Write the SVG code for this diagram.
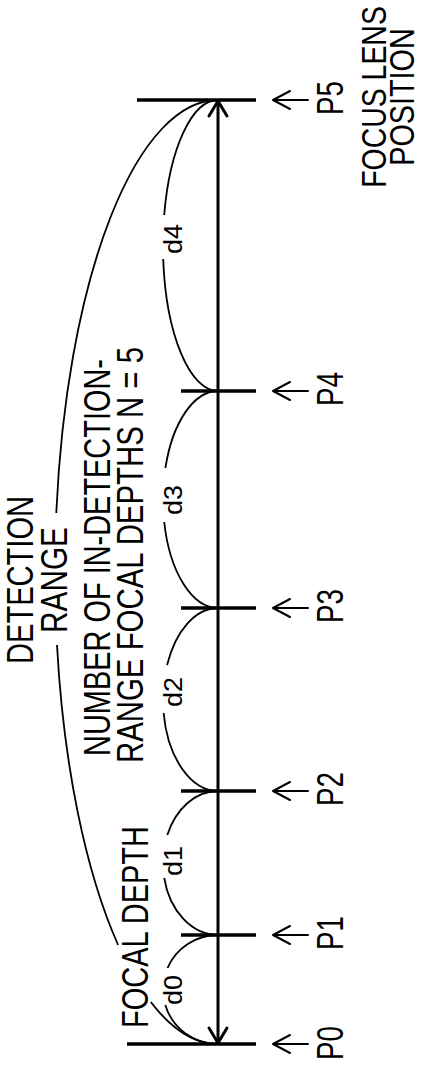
<svg xmlns="http://www.w3.org/2000/svg" width="421" height="1065" viewBox="0 0 421 1065">
<style>
  .bg{fill:#fff}
  .tick{stroke:#000;stroke-width:3.5;fill:none}
  .axis{stroke:#000;stroke-width:3;fill:none}
  .head{stroke:#000;stroke-width:3;fill:none;stroke-linecap:round;stroke-linejoin:round}
  .arc{stroke:#000;stroke-width:1.8;fill:none}
  .ptr{stroke:#000;stroke-width:2;fill:none;stroke-linecap:round;stroke-linejoin:round}
  .lbl{font-family:"Liberation Sans",Arial,sans-serif;font-size:36px;fill:#000;text-anchor:middle}
  .dl{font-family:"Liberation Sans",Arial,sans-serif;font-size:26px;fill:#000;text-anchor:middle}
</style>
<defs>
  <path id="ptrShape" d="M308,0 H274 M290,-9 L273,0 L290,9"/>
</defs>
<rect class="bg" x="0" y="0" width="421" height="1065"/>

<g id="connectors">
  <!-- main double-headed arrow -->
  <line class="axis" x1="218" y1="101" x2="218" y2="1043"/>
  <path class="head" d="M209,116 L218,101 L227,116"/>
  <path class="head" d="M209,1028 L218,1043 L227,1028"/>
  <!-- detection range arc -->
  <path class="arc" d="M218,100 A163,472 0 0 0 56.3,513"/>
  <path class="arc" d="M57,645 A163,472 0 0 0 118.1,945"/>
  <path class="arc" d="M150.8,1002 A163,472 0 0 0 218,1044"/>
  <!-- d4 -->
  <path class="arc" d="M218,100 A55,145.5 0 0 0 164.2,215"/>
  <path class="arc" d="M163.2,259 A55,145.5 0 0 0 218,391"/>
  <!-- d3 -->
  <path class="arc" d="M218,391 A55,108.5 0 0 0 165.4,468"/>
  <path class="arc" d="M164.2,522 A55,108.5 0 0 0 218,608"/>
  <!-- d2 -->
  <path class="arc" d="M218,608 A55,91.5 0 0 0 167.1,665"/>
  <path class="arc" d="M163.6,713 A55,91.5 0 0 0 218,791"/>
  <!-- d1 -->
  <path class="arc" d="M218,791 A55,72 0 0 0 167.3,835"/>
  <path class="arc" d="M164.2,878 A55,72 0 0 0 218,935"/>
  <!-- d0 -->
  <path class="arc" d="M218,935 A55,54.5 0 0 0 167.5,968"/>
  <path class="arc" d="M165.3,1005 A55,54.5 0 0 0 218,1044"/>
</g>

<g id="P5">
  <line class="tick" x1="137" y1="100" x2="256" y2="100"/>
  <use href="#ptrShape" class="ptr" transform="translate(0,100)"/>
  <text class="lbl" transform="translate(343,98) rotate(-90)" textLength="34" lengthAdjust="spacingAndGlyphs">P5</text>
</g>
<g id="P4">
  <line class="tick" x1="181" y1="391" x2="256" y2="391"/>
  <use href="#ptrShape" class="ptr" transform="translate(0,391)"/>
  <text class="lbl" transform="translate(343,389) rotate(-90)" textLength="34" lengthAdjust="spacingAndGlyphs">P4</text>
</g>
<g id="P3">
  <line class="tick" x1="181" y1="608" x2="256" y2="608"/>
  <use href="#ptrShape" class="ptr" transform="translate(0,608)"/>
  <text class="lbl" transform="translate(343,606) rotate(-90)" textLength="34" lengthAdjust="spacingAndGlyphs">P3</text>
</g>
<g id="P2">
  <line class="tick" x1="181" y1="791" x2="256" y2="791"/>
  <use href="#ptrShape" class="ptr" transform="translate(0,791)"/>
  <text class="lbl" transform="translate(343,789) rotate(-90)" textLength="34" lengthAdjust="spacingAndGlyphs">P2</text>
</g>
<g id="P1">
  <line class="tick" x1="181" y1="935" x2="256" y2="935"/>
  <use href="#ptrShape" class="ptr" transform="translate(0,935)"/>
  <text class="lbl" transform="translate(343,933) rotate(-90)" textLength="34" lengthAdjust="spacingAndGlyphs">P1</text>
</g>
<g id="P0">
  <line class="tick" x1="127" y1="1044" x2="256" y2="1044"/>
  <use href="#ptrShape" class="ptr" transform="translate(0,1044)"/>
  <text class="lbl" transform="translate(343,1043) rotate(-90)" textLength="34" lengthAdjust="spacingAndGlyphs">P0</text>
</g>

<g id="focus-lens-position">
  <text class="lbl" transform="translate(386,97) rotate(-90) scale(0.79,1)">FOCUS LENS</text>
  <text class="lbl" transform="translate(413.5,97) rotate(-90) scale(0.8,0.97)">POSITION</text>
</g>
<g id="detection-range">
  <text class="lbl" transform="translate(33,580) rotate(-90)" textLength="168" lengthAdjust="spacingAndGlyphs">DETECTION</text>
  <text class="lbl" transform="translate(67,580) rotate(-90)" textLength="106" lengthAdjust="spacingAndGlyphs">RANGE</text>
</g>
<g id="number-of-depths">
  <text class="lbl" transform="translate(110,557.5) rotate(-90)" textLength="397" lengthAdjust="spacingAndGlyphs">NUMBER OF IN-DETECTION-</text>
  <text class="lbl" transform="translate(143,555) rotate(-90)" textLength="416" lengthAdjust="spacingAndGlyphs">RANGE FOCAL DEPTHS N = 5</text>
</g>
<g id="focal-depth">
  <text class="lbl" transform="translate(148,927) rotate(-90)" textLength="202" lengthAdjust="spacingAndGlyphs">FOCAL DEPTH</text>
</g>
<g id="d-labels">
  <text class="dl" transform="translate(182,239) rotate(-90)" textLength="30" lengthAdjust="spacingAndGlyphs">d4</text>
  <text class="dl" transform="translate(182,500) rotate(-90)" textLength="30" lengthAdjust="spacingAndGlyphs">d3</text>
  <text class="dl" transform="translate(182,692) rotate(-90)" textLength="30" lengthAdjust="spacingAndGlyphs">d2</text>
  <text class="dl" transform="translate(182,861) rotate(-90)" textLength="30" lengthAdjust="spacingAndGlyphs">d1</text>
  <text class="dl" transform="translate(182,990) rotate(-90)" textLength="30" lengthAdjust="spacingAndGlyphs">d0</text>
</g>
</svg>
